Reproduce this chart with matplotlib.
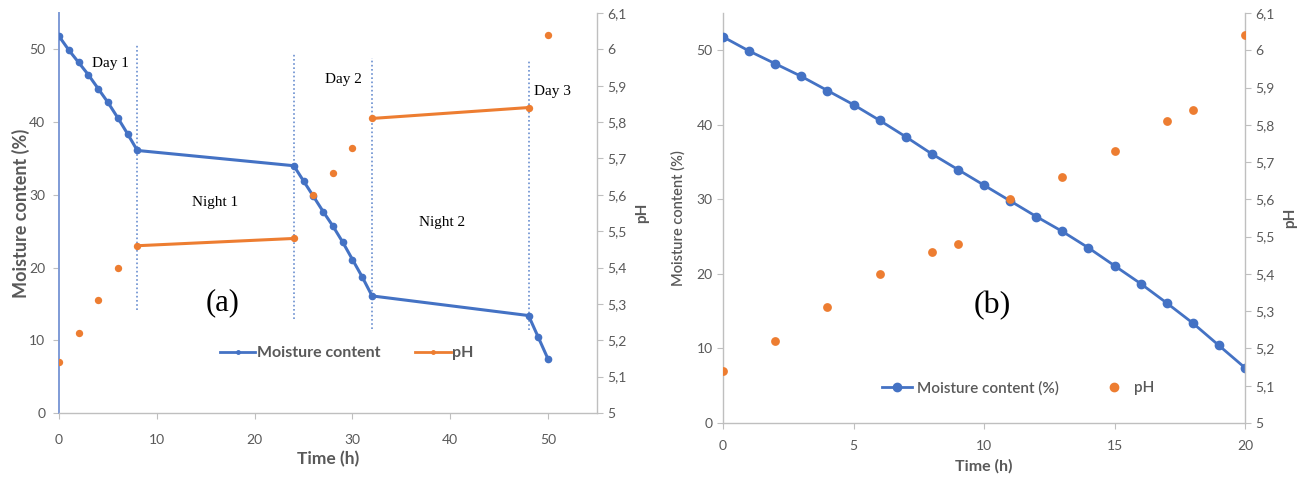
import numpy as np
import matplotlib
matplotlib.use("Agg")
import matplotlib.pyplot as plt
from matplotlib.lines import Line2D
from matplotlib.ticker import FuncFormatter, MultipleLocator

# --- data ---
# (a) drying over 3 days, time in h
time_a = [0, 1, 2, 3, 4, 5, 6, 7, 8, 24, 25, 26, 27, 28, 29, 30, 31, 32, 48, 49, 50]
moisture = [51.8, 49.9, 48.2, 46.5, 44.6, 42.7, 40.6, 38.4, 36.1, 34.0, 31.9,
            29.8, 27.7, 25.7, 23.5, 21.1, 18.7, 16.1, 13.4, 10.4, 7.4]
ph_time_a = [0, 2, 4, 6, 8, 24, 26, 28, 30, 32, 48, 50]
ph = [5.14, 5.22, 5.31, 5.40, 5.46, 5.48, 5.60, 5.66, 5.73, 5.81, 5.84, 6.04]
night_a = [(8, 24), (32, 48)]          # pH joined over the nights
boundaries_a = [8, 24, 32, 48]          # day / night changes

# (b) same series, drying time only
time_b = list(range(21))
ph_time_b = [0, 2, 4, 6, 8, 9, 11, 13, 15, 17, 18, 20]

BLUE = "#4472C4"
ORANGE = "#ED7D31"
GREY = "#595959"
SPINE = "#BFBFBF"

plt.rcParams['font.family'] = ['Lato', 'DejaVu Sans']
SERIF = ['Liberation Serif', 'DejaVu Serif']


def ph_fmt(v, _):
    return f"{v:.10g}".replace('.', ',') if abs(v - round(v, 1)) < 1e-6 else ""


def style_axes(ax, ax2, left_spine_color):
    for a in (ax, ax2):
        a.spines['top'].set_visible(False)
        a.tick_params(labelsize=10, length=4, width=0.8, colors=SPINE, labelcolor=GREY)
        for s in ('left', 'right', 'bottom'):
            a.spines[s].set_color(SPINE)
            a.spines[s].set_linewidth(1.0)
    ax.spines['left'].set_color(left_spine_color)
    ax.spines['left'].set_linewidth(1.4)
    ax.spines['right'].set_visible(False)
    ax2.spines['left'].set_visible(False)
    ax2.spines['bottom'].set_visible(False)


fig = plt.figure(figsize=(13.15, 4.83), dpi=100)

# ---------------- (a) ----------------
ax = fig.add_axes([0.0449, 0.1449, 0.4091, 0.8282])
ax2 = ax.twinx()
ax.set_zorder(1)
ax2.set_zorder(2)

ax.plot(time_a, moisture, color=BLUE, lw=2.2, marker='o', ms=4.5, zorder=3)
ax.vlines(boundaries_a[0], 14.1, 50.8, colors=BLUE, linestyles=(0, (1, 1.5)), lw=1.2, alpha=0.8)
ax.vlines(boundaries_a[1], 12.9, 49.5, colors=BLUE, linestyles=(0, (1, 1.5)), lw=1.2, alpha=0.8)
ax.vlines(boundaries_a[2], 11.6, 48.8, colors=BLUE, linestyles=(0, (1, 1.5)), lw=1.2, alpha=0.8)
ax.vlines(boundaries_a[3], 11.4, 48.4, colors=BLUE, linestyles=(0, (1, 1.5)), lw=1.2, alpha=0.8)

ax2.scatter(ph_time_a, ph, color=ORANGE, s=28, zorder=3, linewidths=0)
for t0, t1 in night_a:
    i0, i1 = ph_time_a.index(t0), ph_time_a.index(t1)
    ax2.plot([t0, t1], [ph[i0], ph[i1]], color=ORANGE, lw=2.2)

ax.set_xlim(0, 55)
ax.set_ylim(0, 55)
ax.set_yticks(range(0, 51, 10))
ax.set_xticks(range(0, 51, 10))
ax2.set_ylim(5, 6.1)
ax2.yaxis.set_major_locator(MultipleLocator(0.1))
ax2.yaxis.set_major_formatter(FuncFormatter(ph_fmt))
style_axes(ax, ax2, "#7F9BD6")
ax.tick_params(axis='x', pad=11)
ax.tick_params(axis='y', pad=6)

ax.set_ylabel("Moisture content (%)", fontsize=13, fontweight='bold', color=GREY, labelpad=-1)
ax.set_xlabel("Time (h)", fontsize=12.5, fontweight='bold', color=GREY, labelpad=4)
ax2.set_ylabel("pH", fontsize=11, fontweight='bold', color=GREY, labelpad=6)

ax.text(5.3, 48.0, "Day 1", family=SERIF, fontsize=11, ha='center', va='center')
ax.text(16.0, 28.9, "Night 1", family=SERIF, fontsize=11, ha='center', va='center')
ax.text(29.1, 45.9, "Day 2", family=SERIF, fontsize=11, ha='center', va='center')
ax.text(39.2, 26.2, "Night 2", family=SERIF, fontsize=11, ha='center', va='center')
ax.text(50.4, 44.2, "Day 3", family=SERIF, fontsize=11, ha='center', va='center')
ax.text(16.7, 15.2, "(a)", family=SERIF, fontsize=22, ha='center', va='center')

handles_a = [Line2D([], [], color=BLUE, lw=2, marker='o', ms=2.5),
             Line2D([], [], color=ORANGE, lw=2, marker='o', ms=2.5)]
leg = ax2.legend(handles_a, ["Moisture content", "pH"], loc='center',
                 bbox_to_anchor=(0.535, 0.15), ncol=2, frameon=False, handlelength=2.2,
                 handletextpad=0.1, columnspacing=2.2,
                 prop={'size': 11.5, 'weight': 'bold'})
for t in leg.get_texts():
    t.set_color(GREY)

# ---------------- (b) ----------------
bx = fig.add_axes([0.5498, 0.1242, 0.3970, 0.8489])
bx2 = bx.twinx()
bx.set_zorder(1)
bx2.set_zorder(2)

bx.plot(time_b, moisture, color=BLUE, lw=2.0, marker='o', ms=6, zorder=3)
bx2.scatter(ph_time_b, ph, color=ORANGE, s=40, zorder=3, linewidths=0)

bx.set_xlim(0, 20)
bx.set_ylim(0, 55)
bx.set_yticks(range(0, 51, 10))
bx.set_xticks(range(0, 21, 5))
bx2.set_ylim(5, 6.1)
bx2.yaxis.set_major_locator(MultipleLocator(0.1))
bx2.yaxis.set_major_formatter(FuncFormatter(ph_fmt))
style_axes(bx, bx2, SPINE)
bx.spines['left'].set_linewidth(1.0)
bx.tick_params(axis='x', pad=8)

bx.set_ylabel("Moisture content (%)", fontsize=10.5, fontweight='semibold', color=GREY, labelpad=8)
bx.set_xlabel("Time (h)", fontsize=11.5, fontweight='bold', color=GREY, labelpad=5)
bx2.set_ylabel("pH", fontsize=11, fontweight='bold', color=GREY, labelpad=6)

bx.text(10.3, 15.7, "(b)", family=SERIF, fontsize=23, ha='center', va='center')

handles_b = [Line2D([], [], color=BLUE, lw=2, marker='o', ms=6),
             Line2D([], [], color=ORANGE, lw=0, marker='o', ms=6)]
leg = bx2.legend(handles_b, ["Moisture content (%)", "pH"], loc='center',
                 bbox_to_anchor=(0.565, 0.085), ncol=2, frameon=False, handlelength=2.0,
                 handletextpad=0.3, columnspacing=2.6,
                 prop={'size': 11, 'weight': 'semibold'})
for t in leg.get_texts():
    t.set_color(GREY)

fig.savefig("out.png", dpi=100)
